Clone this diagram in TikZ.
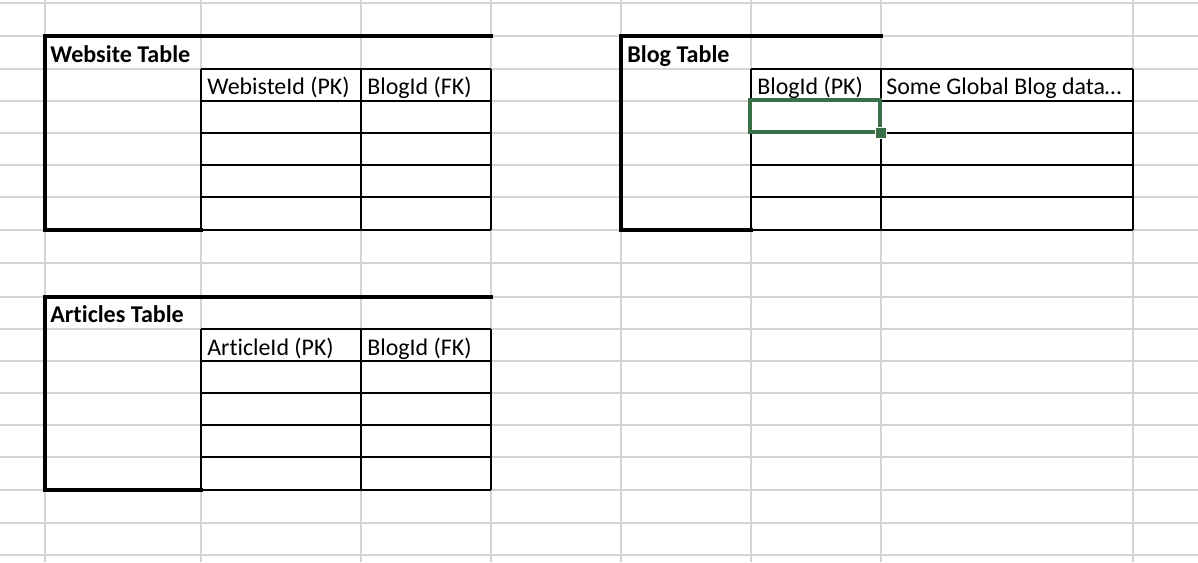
\documentclass[tikz,border=0pt]{standalone}
\usepackage{fontspec}
\setmainfont{Carlito}[Ligatures={NoCommon}]
\usetikzlibrary{positioning}

\definecolor{gridgray}{RGB}{212,212,212}
\definecolor{selgreen}{RGB}{58,112,72}

\begin{document}
\begin{tikzpicture}[x=0.02cm, y=-0.02cm]
    \tikzstyle{gridline} = [draw=gridgray, line width=0.8pt]
    \tikzstyle{cell} = [draw=black, line width=0.9pt]
    \tikzstyle{frame} = [draw=black, line width=2.2pt, line cap=rect]
    \tikzstyle{title} = [anchor=base west, inner sep=0pt,
    font=\fontsize{13.7}{16}\selectfont\bfseries]
    \tikzstyle{head} = [anchor=base west, inner sep=0pt,
    font=\fontsize{13.6}{16}\selectfont]
    \useasboundingbox (0,0) rectangle (1198,562);
    \fill[white] (0,0) rectangle (1198,562);
    % sheet grid
    \foreach \gx in {45,201,361,491,621,751,881,1133}
        \path [gridline] (\gx,0) -- (\gx,562);
    \foreach \gy in {3,36,69,101,133,165,197,230,263,297,329,361,393,425,457,490,523,555}
        \path [gridline] (0,\gy) -- (1198,\gy);
    % website table
    \foreach \gx in {201,361,491}
        \path [cell] (\gx,69) -- (\gx,230);
    \foreach \gy in {69,101,133,165,197,230}
        \path [cell] (201,\gy) -- (491,\gy);
    \path [frame] (491,36) -- (45,36) -- (45,230) -- (201,230);
    \node [title] (website) at (50,62) {Website Table};
    \node [head] (websiteid) at (207,94) {WebisteId (PK)};
    \node [head] (websiteblog) at (367,94) {BlogId (FK)};
    % blog table
    \foreach \gx in {751,881,1133}
        \path [cell] (\gx,69) -- (\gx,230);
    \foreach \gy in {69,101,133,165,197,230}
        \path [cell] (751,\gy) -- (1133,\gy);
    \path [frame] (881,36) -- (621,36) -- (621,230) -- (751,230);
    \node [title] (blog) at (627,62) {Blog Table};
    \node [head] (blogid) at (757,94) {BlogId (PK)};
    \node [head] (blogdata) at (886,94) {Some Global Blog data…};
    % selected cell
    \path [draw=selgreen, line width=2.2pt] (750,100) rectangle (880,132);
    \path [fill=selgreen, draw=white, line width=0.8pt] (875.5,127.5) rectangle (886.5,138.5);
    % articles table
    \foreach \gx in {201,361,491}
        \path [cell] (\gx,329) -- (\gx,490);
    \foreach \gy in {329,361,393,425,457,490}
        \path [cell] (201,\gy) -- (491,\gy);
    \path [frame] (491,297) -- (45,297) -- (45,490) -- (201,490);
    \node [title] (articles) at (50,322) {Articles Table};
    \node [head] (articleid) at (207,355) {ArticleId (PK)};
    \node [head] (articleblog) at (367,355) {BlogId (FK)};
\end{tikzpicture}
\end{document}
